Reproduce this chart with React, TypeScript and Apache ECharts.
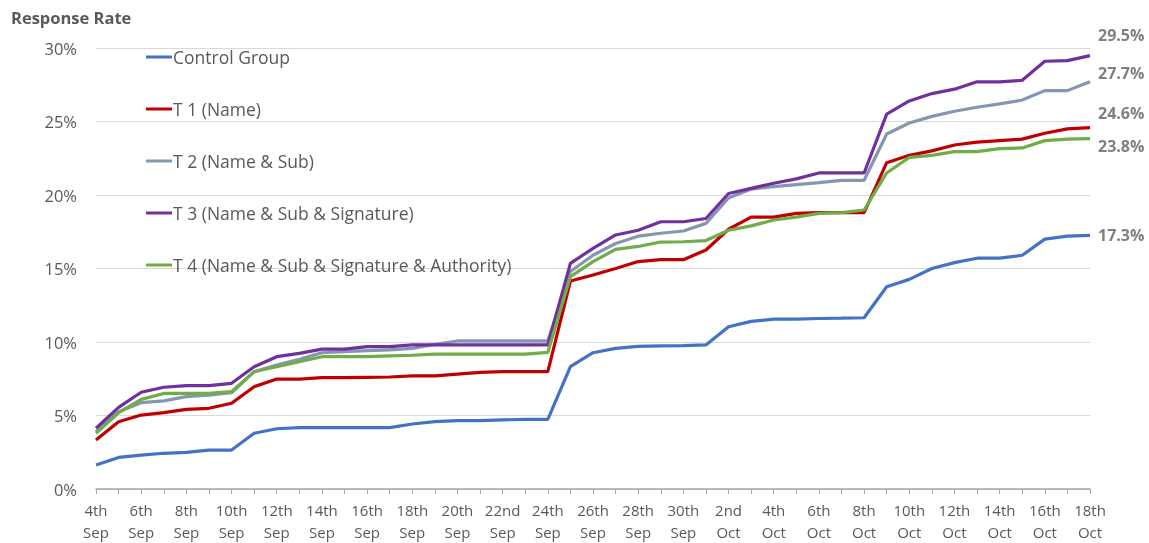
import React, { useEffect, useRef } from "react";
import * as echarts from "echarts";

const dates = [
  "4th Sep", "5th Sep", "6th Sep", "7th Sep", "8th Sep", "9th Sep", "10th Sep", "11th Sep", "12th Sep",
  "13th Sep", "14th Sep", "15th Sep", "16th Sep", "17th Sep", "18th Sep", "19th Sep", "20th Sep",
  "21st Sep", "22nd Sep", "23rd Sep", "24th Sep", "25th Sep", "26th Sep", "27th Sep", "28th Sep",
  "29th Sep", "30th Sep", "1st Oct", "2nd Oct", "3rd Oct", "4th Oct", "5th Oct", "6th Oct", "7th Oct",
  "8th Oct", "9th Oct", "10th Oct", "11th Oct", "12th Oct", "13th Oct", "14th Oct", "15th Oct",
  "16th Oct", "17th Oct", "18th Oct",
];

const control = [1.63, 2.15, 2.31, 2.43, 2.49, 2.65, 2.65, 3.79, 4.1, 4.17, 4.17, 4.17, 4.17, 4.17, 4.42, 4.58, 4.65, 4.65, 4.7, 4.74, 4.74, 8.32, 9.27, 9.57, 9.7, 9.73, 9.75, 9.8, 11.04, 11.4, 11.56, 11.56, 11.6, 11.62, 11.65, 13.76, 14.26, 15.0, 15.4, 15.7, 15.7, 15.9, 17.0, 17.2, 17.26];
const t1 = [3.33, 4.58, 5.03, 5.19, 5.42, 5.49, 5.83, 6.96, 7.48, 7.48, 7.57, 7.57, 7.6, 7.62, 7.69, 7.69, 7.82, 7.94, 7.98, 7.98, 7.98, 14.15, 14.56, 15.0, 15.47, 15.6, 15.6, 16.26, 17.67, 18.5, 18.5, 18.75, 18.8, 18.8, 18.8, 22.2, 22.7, 23.0, 23.4, 23.6, 23.7, 23.8, 24.2, 24.5, 24.58];
const t2 = [3.9, 5.26, 5.87, 5.99, 6.28, 6.39, 6.55, 7.98, 8.44, 8.82, 9.27, 9.34, 9.41, 9.46, 9.57, 9.84, 10.07, 10.07, 10.07, 10.07, 10.07, 14.8, 15.9, 16.7, 17.2, 17.4, 17.55, 18.07, 19.8, 20.4, 20.57, 20.7, 20.84, 21.0, 21.0, 24.15, 24.9, 25.35, 25.7, 25.97, 26.2, 26.46, 27.1, 27.1, 27.7];
const t3 = [4.13, 5.55, 6.58, 6.92, 7.03, 7.03, 7.19, 8.32, 9.0, 9.23, 9.52, 9.52, 9.68, 9.68, 9.8, 9.8, 9.8, 9.8, 9.8, 9.8, 9.8, 15.35, 16.37, 17.28, 17.6, 18.18, 18.18, 18.4, 20.1, 20.45, 20.8, 21.1, 21.5, 21.5, 21.5, 25.5, 26.4, 26.9, 27.2, 27.7, 27.7, 27.8, 29.1, 29.14, 29.48];
const t4 = [3.79, 5.19, 6.1, 6.5, 6.5, 6.5, 6.62, 7.98, 8.32, 8.66, 9.0, 9.0, 9.0, 9.05, 9.1, 9.18, 9.18, 9.18, 9.18, 9.18, 9.3, 14.45, 15.47, 16.3, 16.5, 16.8, 16.82, 16.9, 17.6, 17.9, 18.3, 18.5, 18.75, 18.8, 18.98, 21.5, 22.56, 22.7, 22.95, 22.95, 23.15, 23.2, 23.7, 23.8, 23.83];

const seriesNames = [
  "Control Group",
  "T 1 (Name)",
  "T 2 (Name & Sub)",
  "T 3 (Name & Sub & Signature)",
  "T 4 (Name & Sub & Signature & Authority)",
];
const seriesData = [control, t1, t2, t3, t4];
const colors = ["#4472C4", "#C00000", "#8497B0", "#7030A0", "#70AD47"];
const endOffsets = [0, -15, -9, -21, 7];

const FONT = "Open Sans";

export default function App() {
  const ref = useRef<HTMLDivElement>(null);
  useEffect(() => {
    if (!ref.current) return;
    const chart = echarts.init(ref.current, null, { renderer: "svg" });
    chart.setOption({
      animation: false,
      textStyle: { fontFamily: FONT },
      title: {
        text: "Response Rate",
        left: 6,
        top: 4,
        textStyle: { fontFamily: FONT, fontSize: 16.5, fontWeight: "bold", color: "#595959" },
      },
      legend: {
        orient: "vertical",
        left: 141,
        top: 41,
        itemWidth: 26,
        itemHeight: 3,
        itemGap: 30,
        data: seriesNames.map((n) => ({ name: n, icon: "rect" })),
        itemStyle: { borderWidth: 0 },
        textStyle: { fontFamily: FONT, fontSize: 17.5, color: "#595959", lineHeight: 22, padding: [0, 0, 0, -4] },
        selectedMode: false,
      },
      grid: { left: 96, right: 59, top: 48, bottom: 54, containLabel: false },
      xAxis: {
        type: "category",
        data: dates,
        boundaryGap: false,
        axisLine: { lineStyle: { color: "#a6a6a6", width: 1.5 } },
        axisTick: { show: true, interval: 0, length: 5, lineStyle: { color: "#a6a6a6" } },
        axisLabel: {
          interval: 1,
          color: "#595959",
          fontSize: 15,
          lineHeight: 22,
          margin: 10,
          formatter: (v: string) => v.replace(" ", "\n"),
        },
        splitLine: { show: false },
      },
      yAxis: {
        type: "value",
        min: 0,
        max: 30,
        interval: 5,
        axisLine: { show: false },
        axisTick: { show: false },
        axisLabel: { formatter: "{value}%", color: "#595959", fontSize: 16.5, margin: 19 },
        splitLine: { lineStyle: { color: "#d9d9d9", width: 1 } },
      },
      series: seriesNames.map((name, i) => ({
        name,
        type: "line",
        data: seriesData[i],
        symbol: "none",
        lineStyle: { color: colors[i], width: 3.2 },
        itemStyle: { color: colors[i] },
        endLabel: {
          show: true,
          formatter: (p: any) => `${Number(p.value).toFixed(1)}%`,
          color: "#7f7f7f",
          fontWeight: "bold",
          fontSize: 16,
          fontFamily: FONT,
          distance: 8,
          offset: [0, endOffsets[i]],
        },
      })),
    });
    return () => chart.dispose();
  }, []);
  return <div ref={ref} style={{ position: "fixed", left: 0, top: 0, width: 1149, height: 543 }} />;
}
